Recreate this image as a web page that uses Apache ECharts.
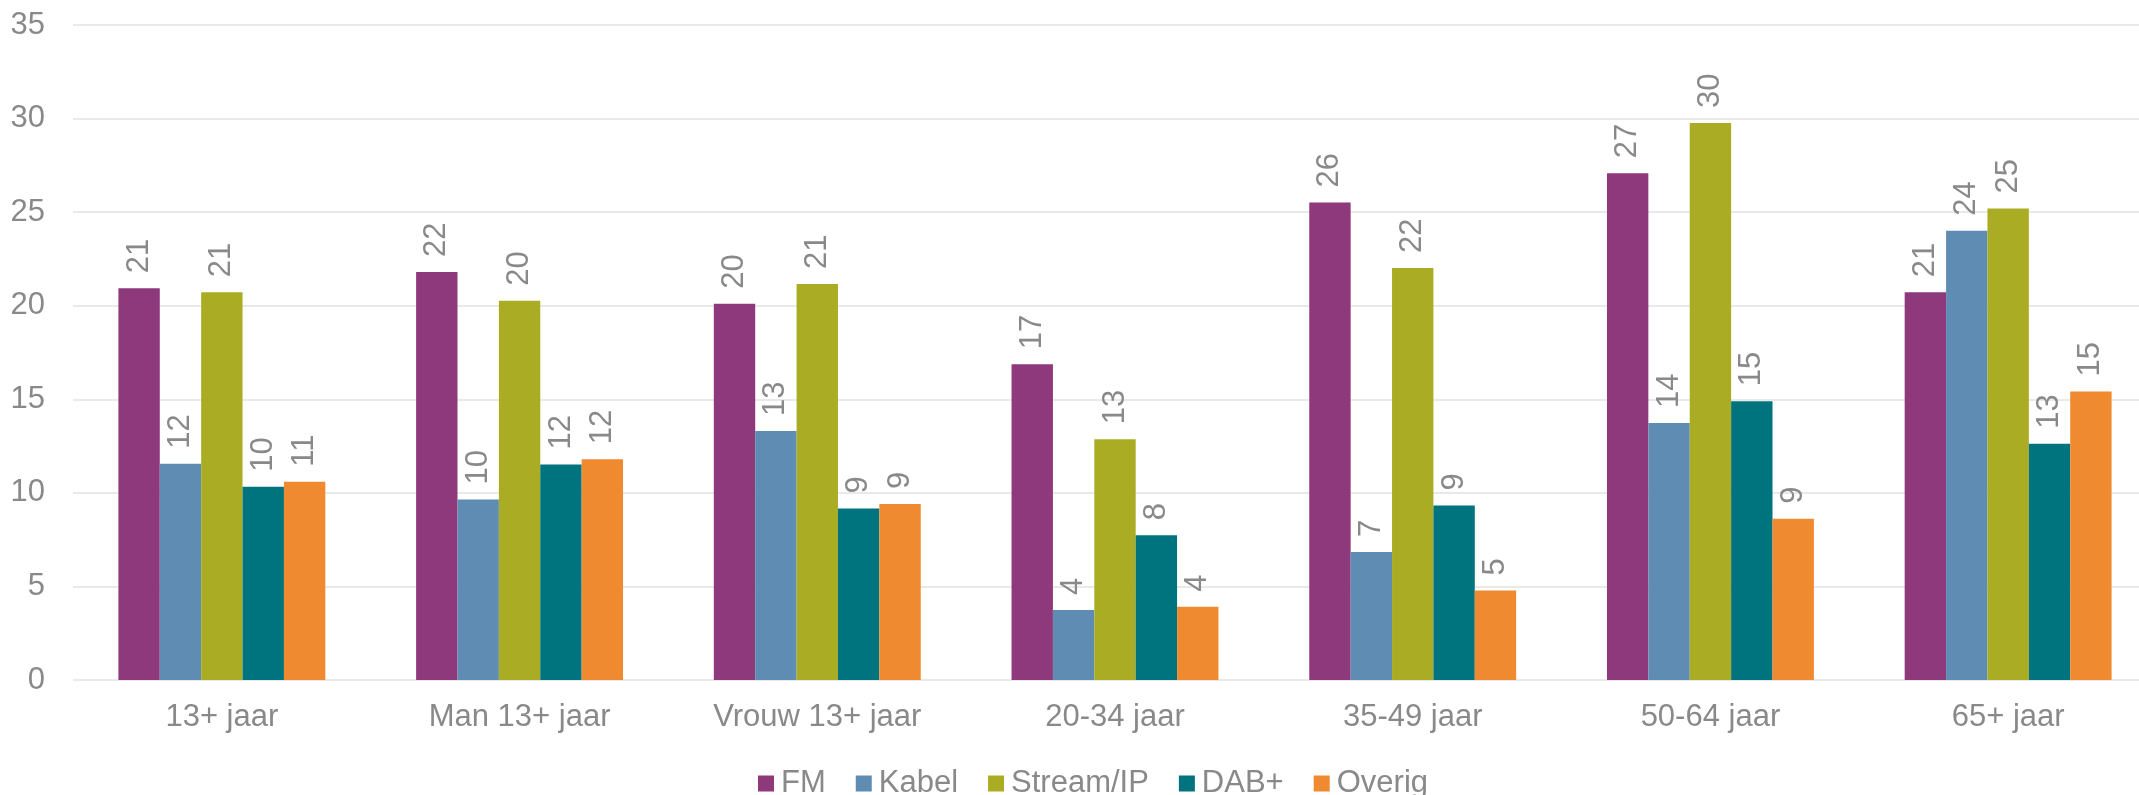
<!DOCTYPE html>
<html>
<head>
<meta charset="utf-8">
<script src="https://cdn.jsdelivr.net/npm/echarts@6/dist/echarts.min.js"></script>
<style>
  html, body { margin: 0; padding: 0; background: #ffffff; }
  #chart { width: 2139px; height: 795px; }
</style>
</head>
<body>
<div id="chart"></div>
<script>
// Doelgroepen (x-as)
const categories = ['13+ jaar', 'Man 13+ jaar', 'Vrouw 13+ jaar', '20-34 jaar', '35-49 jaar', '50-64 jaar', '65+ jaar'];

// Luisteraandeel per ontvangstwijze
const fm       = [20.93, 21.80, 20.11, 16.87, 25.51, 27.08, 20.72];
const kabel    = [11.55,  9.65, 13.31,  3.74,  6.84, 13.73, 24.01];
const stream   = [20.72, 20.27, 21.16, 12.86, 22.02, 29.76, 25.20];
const dab      = [10.33, 11.52,  9.16,  7.73,  9.33, 14.89, 12.63];
const overig   = [10.60, 11.79,  9.40,  3.92,  4.78,  8.62, 15.42];

// Y-as schaal
const yMin = 0, yMax = 35, yStep = 5;

const seriesNames  = ['FM', 'Kabel', 'Stream/IP', 'DAB+', 'Overig'];
const seriesData   = [fm, kabel, stream, dab, overig];
const seriesColors = ['#8E397B', '#5F8CB2', '#AAAD24', '#00747E', '#F08A30'];

const textColor = '#898989';
const fontFamily = '"Liberation Sans", Arial, Helvetica, sans-serif';

const chart = echarts.init(document.getElementById('chart'), null, { renderer: 'canvas' });

chart.setOption({
  animation: false,
  backgroundColor: '#ffffff',
  textStyle: { fontFamily: fontFamily },
  grid: {
    left: 73,
    right: -18,
    top: 25,
    bottom: 115,
    containLabel: false,
    outerBoundsMode: 'none'
  },
  legend: {
    data: seriesNames,
    left: 753,
    top: 763,
    icon: 'rect',
    itemWidth: 16,
    itemHeight: 16,
    itemGap: 30,
    textStyle: { color: textColor, fontSize: 31, fontFamily: fontFamily, padding: [0, 0, 0, 2] }
  },
  xAxis: {
    type: 'category',
    data: categories,
    axisLine: { show: false },
    axisTick: { show: false },
    axisLabel: { color: textColor, fontSize: 31, fontFamily: fontFamily, margin: 22 }
  },
  yAxis: {
    type: 'value',
    min: yMin,
    max: yMax,
    interval: yStep,
    axisLine: { show: false },
    axisTick: { show: false },
    axisLabel: { color: textColor, fontSize: 31, fontFamily: fontFamily, margin: 28 },
    splitLine: { lineStyle: { color: '#e2e2e2', width: 1.5 } }
  },
  series: seriesNames.map((name, i) => ({
    name: name,
    type: 'bar',
    data: seriesData[i],
    barGap: '0%',
    barCategoryGap: '30.5%',
    itemStyle: { color: seriesColors[i] },
    label: {
      show: true,
      position: 'top',
      distance: 15,
      rotate: 90,
      align: 'left',
      verticalAlign: 'middle',
      color: textColor,
      fontSize: 31,
      fontFamily: fontFamily,
      formatter: p => String(Math.round(p.value))
    }
  }))
});
</script>
</body>
</html>
